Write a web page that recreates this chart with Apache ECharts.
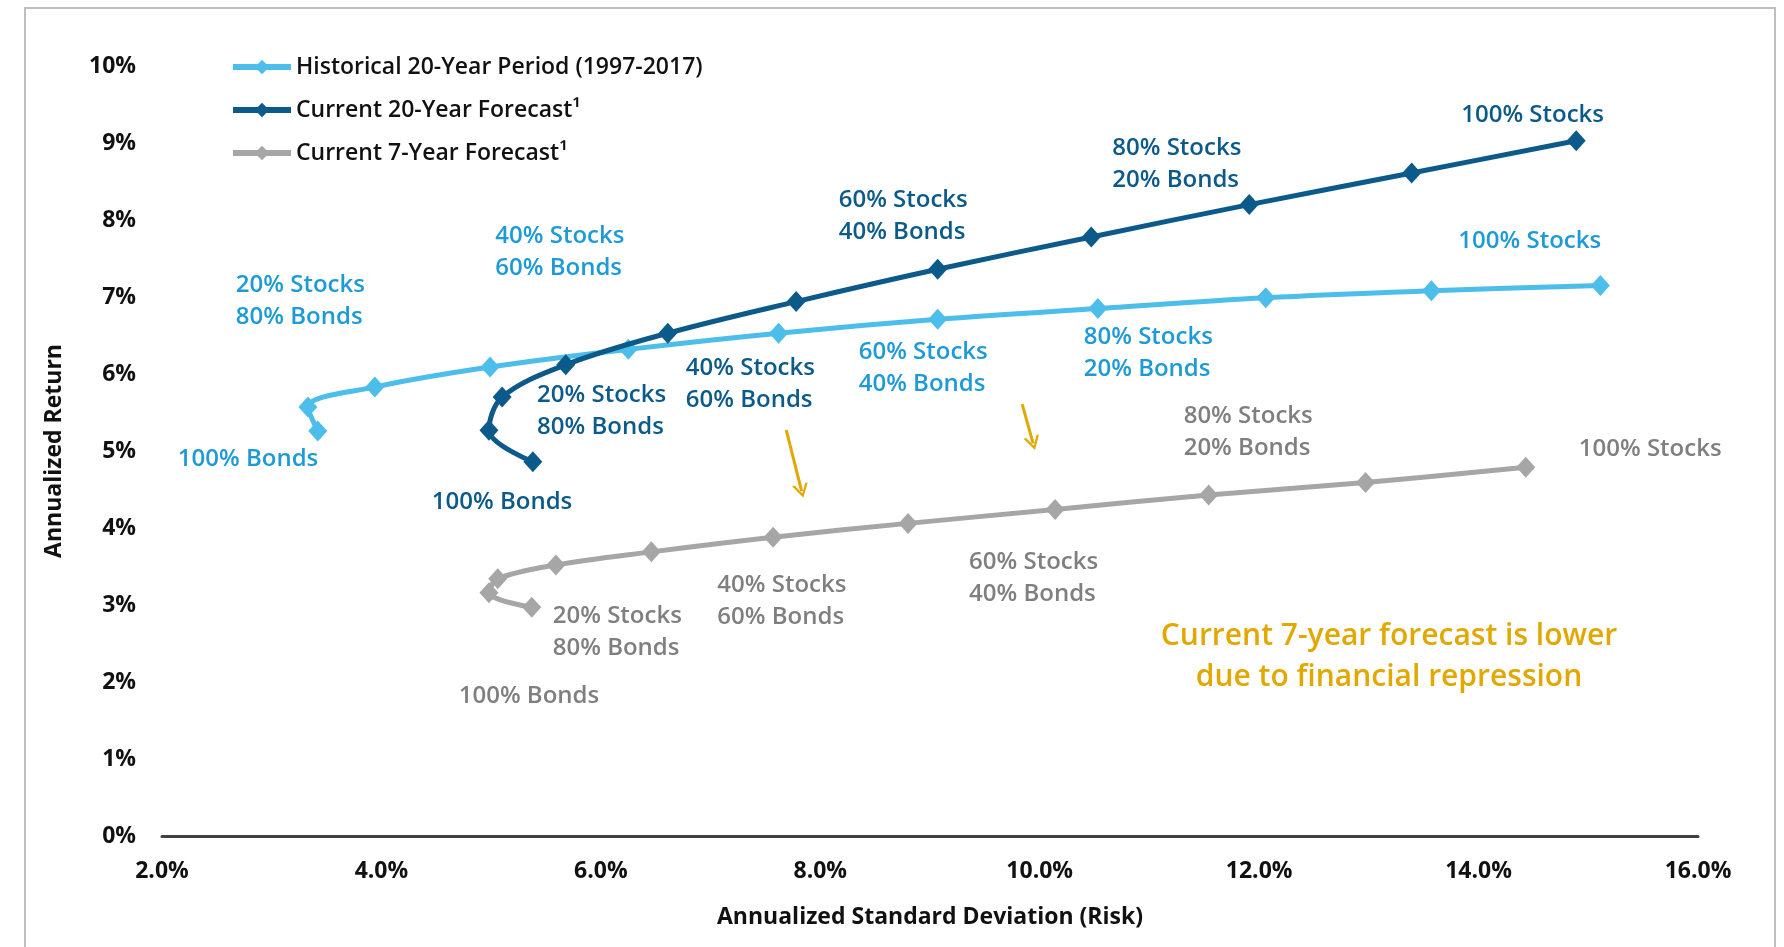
<!DOCTYPE html>
<html>
<head>
<meta charset="utf-8">
<script src="https://cdn.jsdelivr.net/npm/echarts@6/dist/echarts.min.js"></script>
<style>
html,body{margin:0;padding:0;background:#fff;}
#c{width:1784px;height:947px;}
</style>
</head>
<body>
<div id="c"></div>
<script>
// ---- Data (annualized standard deviation %, annualized return %) ----
const seriesNames = ['Historical 20-Year Period (1997-2017)', 'Current 20-Year Forecast\u00B9', 'Current 7-Year Forecast\u00B9'];
const mixLabels = ['100% Bonds', '', '20% Stocks\n80% Bonds', '', '40% Stocks\n60% Bonds', '', '60% Stocks\n40% Bonds', '', '80% Stocks\n20% Bonds', '', '100% Stocks'];

const histRisk = [3.42, 3.33, 3.94, 4.99, 6.25, 7.62, 9.07, 10.53, 12.06, 13.57, 15.11];
const histRet  = [5.26, 5.57, 5.83, 6.09, 6.32, 6.53, 6.71, 6.85, 6.99, 7.08, 7.15];

const cur20Risk = [5.38, 4.98, 5.10, 5.68, 6.61, 7.78, 9.07, 10.47, 11.91, 13.39, 14.89];
const cur20Ret  = [4.86, 5.27, 5.70, 6.12, 6.53, 6.94, 7.36, 7.78, 8.20, 8.61, 9.03];

const cur7Risk = [5.37, 4.98, 5.06, 5.59, 6.46, 7.57, 8.80, 10.14, 11.54, 12.97, 14.43];
const cur7Ret  = [2.97, 3.16, 3.34, 3.52, 3.69, 3.88, 4.06, 4.24, 4.43, 4.59, 4.79];

const xTicks = [2, 4, 6, 8, 10, 12, 14, 16];
const yTicks = [0, 1, 2, 3, 4, 5, 6, 7, 8, 9, 10];

const noteText = 'Current 7-year forecast is lower\ndue to financial repression';
// annotation arrows: [startRisk, startRet, endRisk, endRet]
const arrows = [[7.69, 5.27, 7.83, 4.48], [9.84, 5.61, 9.94, 5.10]];

// ---- Layout / style (not data) ----
const colors = ['#4DBDEA', '#0B5A8A', '#A6A6A6'];
const labelColors = ['#1E9AD6', '#0B5A8A', '#7F7F7F'];
const labelOffsets = [
  {0: [-140, 28], 2: [-139, -86], 4: [-133, -97], 6: [-79, 49], 8: [-182, 55], 10: [-142, -44]},
  {0: [-101, 40], 2: [35, 14], 4: [18, 51], 6: [-99, -53], 8: [-137, -40], 10: [-115, -26]},
  {0: [-73, 89], 2: [55, 53], 4: [66, 49], 6: [61, 55], 8: [-25, -63], 10: [53, -18]}
];
const FONT = '"Open Sans", "DejaVu Sans", sans-serif';

function buildData(risk, ret, si) {
  return risk.map((x, i) => {
    const d = { value: [x, ret[i]] };
    const off = labelOffsets[si][i];
    if (off && mixLabels[i]) {
      d.label = {
        show: true,
        formatter: mixLabels[i],
        position: 'inside',
        align: 'left',
        verticalAlign: 'middle',
        offset: off,
        color: labelColors[si],
        fontFamily: FONT,
        fontWeight: 600,
        fontSize: 24,
        lineHeight: 32
      };
    }
    return d;
  });
}

const riskSets = [histRisk, cur20Risk, cur7Risk];
const retSets = [histRet, cur20Ret, cur7Ret];

const series = seriesNames.map((name, si) => ({
  name: name,
  type: 'line',
  smooth: 0.35,
  data: buildData(riskSets[si], retSets[si], si),
  symbol: 'diamond',
  symbolSize: [19, 21],
  lineStyle: { color: colors[si], width: 5 },
  itemStyle: { color: colors[si] },
  label: { show: false },
  emphasis: { disabled: true },
  z: 2 + si
}));

series.push({
  name: 'arrows',
  type: 'line',
  data: [],
  silent: true,
  markLine: {
    silent: true,
    symbol: ['none', 'path://M0,10 L5,0 L10,10 L8.4,10 L5,3.2 L1.6,10 Z'],
    symbolSize: [16, 14],
    label: { show: false },
    lineStyle: { color: '#E2A800', width: 3, type: 'solid' },
    data: arrows.map(a => [{ coord: [a[0], a[1]] }, { coord: [a[2], a[3]] }])
  }
});

const chart = echarts.init(document.getElementById('c'));
chart.setOption({
  animation: false,
  backgroundColor: '#fff',
  grid: { left: 162, right: 86, top: 66, bottom: 111, containLabel: false },
  legend: {
    data: seriesNames,
    orient: 'vertical',
    left: 225,
    top: 48,
    itemWidth: 58,
    itemHeight: 18,
    itemGap: 15,
    lineStyle: { width: 6 },
    textStyle: { color: '#111', fontFamily: FONT, fontWeight: 600, fontSize: 23, lineHeight: 28 }
  },
  xAxis: {
    type: 'value',
    min: xTicks[0],
    max: xTicks[xTicks.length - 1],
    interval: 2,
    name: 'Annualized Standard Deviation (Risk)',
    nameLocation: 'middle',
    nameGap: 70,
    nameTextStyle: { color: '#111', fontFamily: FONT, fontWeight: 'bold', fontSize: 23 },
    axisLine: { show: true, lineStyle: { color: '#404040', width: 3 } },
    axisTick: { show: false },
    splitLine: { show: false },
    axisLabel: {
      margin: 24, color: '#111', fontFamily: FONT, fontWeight: 'bold', fontSize: 23,
      formatter: v => v.toFixed(1) + '%'
    }
  },
  yAxis: {
    type: 'value',
    min: yTicks[0],
    max: yTicks[yTicks.length - 1],
    interval: 1,
    name: 'Annualized Return',
    nameLocation: 'middle',
    nameGap: 96,
    nameRotate: 90,
    nameTextStyle: { color: '#111', fontFamily: FONT, fontWeight: 'bold', fontSize: 23 },
    axisLine: { show: false },
    axisTick: { show: false },
    splitLine: { show: false },
    axisLabel: {
      margin: 26, color: '#111', fontFamily: FONT, fontWeight: 'bold', fontSize: 23,
      formatter: v => v + '%'
    }
  },
  graphic: [
    {
      type: 'rect', silent: true, z: -1,
      shape: { x: 25, y: 8, width: 1750, height: 960 },
      style: { fill: 'none', stroke: '#BFBFBF', lineWidth: 2 }
    },
    {
      type: 'text', silent: true,
      x: 1389, y: 657,
      style: {
        text: noteText, fill: '#E2A800', font: '600 30px ' + FONT,
        align: 'center', verticalAlign: 'middle', lineHeight: 41
      }
    }
  ],
  series: series
});
</script>
</body>
</html>
